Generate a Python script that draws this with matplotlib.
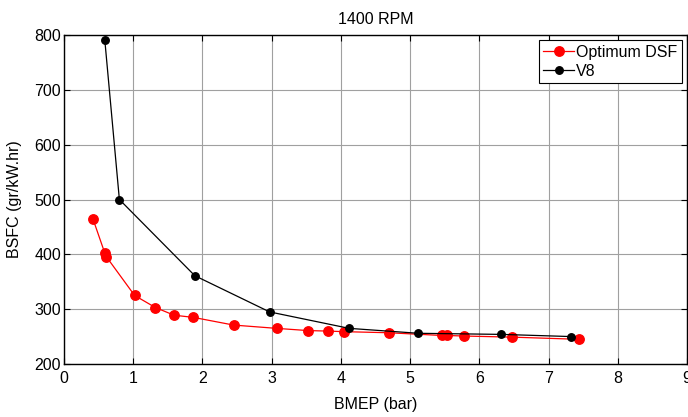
import numpy as np
import matplotlib
matplotlib.use("Agg")
import matplotlib.pyplot as plt

plt.rcParams['font.family'] = ['Liberation Sans', 'DejaVu Sans']

# data
dsf_bmep = [0.42, 0.59, 0.61, 1.02, 1.32, 1.59, 1.87, 2.45, 3.07, 3.52, 3.82, 4.04,
            4.69, 5.46, 5.54, 5.78, 6.47, 7.44]
dsf_bsfc = [464, 402, 396, 325, 303, 289, 285, 271, 265, 261, 260, 259,
            257, 252, 252, 251, 249, 245]

v8_bmep = [0.59, 0.80, 1.89, 2.97, 4.12, 5.12, 6.32, 7.33]
v8_bsfc = [790, 500, 361, 295, 265, 256, 254, 250]

x_ticks = np.arange(0, 10)
y_ticks = np.arange(200, 900, 100)

FS = 11.5

fig = plt.figure(figsize=(6.88, 4.17), dpi=100)
ax = fig.add_axes([64 / 688, 1 - 364 / 417, (687 - 64) / 688, (364 - 35) / 417])

ax.plot(dsf_bmep, dsf_bsfc, '-o', color='red', lw=0.9, ms=6.8, label='Optimum DSF')
ax.plot(v8_bmep, v8_bsfc, '-o', color='black', lw=0.9, ms=5.4, label='V8')

ax.set_xlim(0, 9)
ax.set_ylim(200, 800)
ax.set_xticks(x_ticks)
ax.set_yticks(y_ticks)
ax.tick_params(direction='in', top=True, right=True, labelsize=FS, length=4, width=0.8)
ax.tick_params(axis='x', pad=5)
ax.tick_params(axis='y', pad=2)
ax.grid(True, color='#a0a0a0', lw=0.8)
for s in ax.spines.values():
    s.set_linewidth(1.0)

ax.set_title('1400 RPM', fontsize=FS, pad=8)
ax.set_xlabel('BMEP (bar)', fontsize=FS, labelpad=8)
ax.set_ylabel('BSFC (gr/kW.hr)', fontsize=FS, labelpad=9)

leg = ax.legend(loc='upper right', fontsize=FS, fancybox=False, framealpha=1,
                edgecolor='black', borderpad=0.3, handlelength=1.9,
                handletextpad=0.15, borderaxespad=0.3, labelspacing=0.25)
leg.get_frame().set_linewidth(0.8)

fig.savefig('out.png', dpi=100)
